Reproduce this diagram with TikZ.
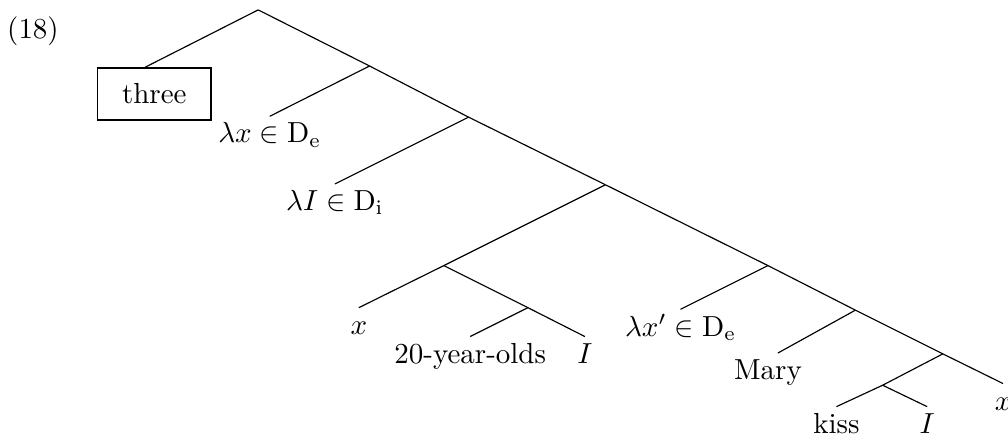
\documentclass[tikz,border=0pt]{standalone}
\usepackage{tikz}
\usetikzlibrary{positioning,calc}

\begin{document}
\begin{tikzpicture}[
    leaf/.style={anchor=north, inner sep=2pt, text height=7pt, text depth=2pt},
    boxed/.style={draw, line width=0.5pt, minimum width=39pt, minimum height=18pt, inner sep=0pt}
  ]
    \useasboundingbox (0,0) rectangle (12.22,-5.26);
    \node (exnum) at (0.40,-0.38) {(18)};
    % branching points
    \coordinate (root) at (3.13,-0.12);
    \coordinate (n1) at (4.48,-0.80);
    \coordinate (n2) at (5.68,-1.42);
    \coordinate (n3) at (7.34,-2.24);
    \coordinate (n4) at (5.38,-3.22);
    \coordinate (n5) at (9.31,-3.22);
    \coordinate (n6) at (6.40,-3.73);
    \coordinate (n7) at (10.37,-3.76);
    \coordinate (n8) at (11.43,-4.29);
    \coordinate (n9) at (10.70,-4.67);
    % leaves
    \node[boxed] (three) at (1.87,-1.14) {three};
    \node[leaf] (lamx) at (3.27,-1.41) {$\lambda x \in \mathrm{D}_\mathrm{e}$};
    \node[leaf] (lamI) at (4.06,-2.23) {$\lambda I \in \mathrm{D}_\mathrm{i}$};
    \node[leaf] (xa) at (4.35,-3.73) {$x$};
    \node[leaf] (olds) at (5.70,-4.08) {20-year-olds};
    \node[leaf] (Ia) at (7.09,-4.08) {$I$};
    \node[leaf] (lamxp) at (8.25,-3.75) {$\lambda x' \in \mathrm{D}_\mathrm{e}$};
    \node[leaf] (mary) at (9.31,-4.28) {Mary};
    \node[leaf] (kiss) at (10.14,-4.93) {kiss};
    \node[leaf] (Ib) at (11.24,-4.93) {$I$};
    \node[leaf] (xb) at (12.16,-4.65) {$x$};
    % edges
    \foreach \a/\b in {root/n1, n1/n2, n2/n3, n3/n4, n3/n5, n4/n6, n5/n7, n7/n8, n8/n9}
      \draw (\a) -- (\b);
    \foreach \a/\b in {n1/lamx, n2/lamI, n4/xa, n6/olds, n6/Ia, n5/lamxp, n9/kiss, n9/Ib, n8/xb}
      \draw (\a) -- (\b.north);
    \draw (root) -- ([xshift=-0.11cm]three.north);
    \draw (n7) -- ([xshift=0.12cm]mary.north);
\end{tikzpicture}
\end{document}
